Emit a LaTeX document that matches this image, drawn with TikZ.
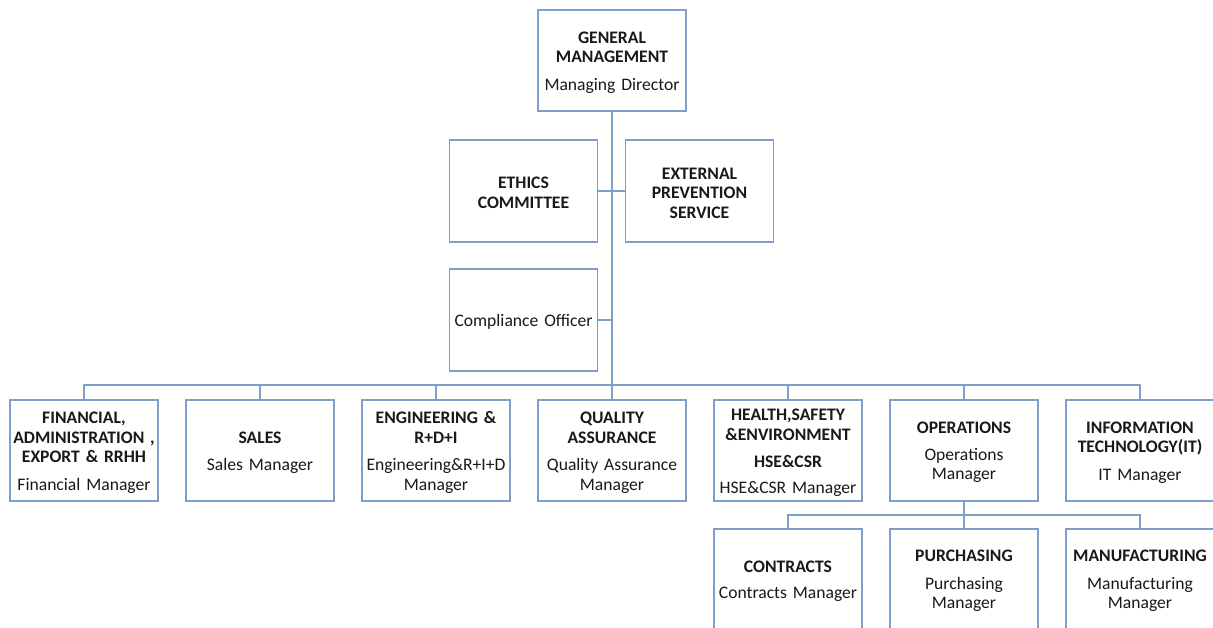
\documentclass[tikz,border=0pt]{standalone}
\usepackage{fontspec}
\setmainfont{Carlito}
\definecolor{boxline}{RGB}{126,160,200}
\definecolor{txt}{RGB}{25,25,25}
\newcommand\lowerfix{\endgraf\vspace*{-4pt}}
\begin{document}
\begin{tikzpicture}[x=1pt,y=-1pt,
  unit/.style={draw=boxline,line width=1.2pt,fill=white,inner sep=0pt,
    minimum width=148pt,minimum height=101pt,text width=146pt,align=center,
    text=txt,font=\fontsize{17.6}{19.5}\selectfont,
    execute at end node=\lowerfix},
  sub/.style={unit,minimum height=100pt},
  link/.style={draw=boxline,line width=1.4pt}]
\useasboundingbox (0,0) rectangle (1213,627);
\fill[white] (0,0) rectangle (1213,627);
% top
\node[unit] (gm) at (612,60.5) {\textbf{GENERAL\\MANAGEMENT}\\[8pt]Managing Director};
\node[unit,minimum height=102pt] (eth) at (523.5,191) {\textbf{ETHICS\\COMMITTEE}};
\node[unit,minimum height=102pt] (ext) at (699.5,191) {\textbf{EXTERNAL\\PREVENTION\\SERVICE}};
\node[unit,minimum height=102pt] (comp) at (523.5,320) {Compliance Officer};
% main row
\node[unit] (fin) at (84,450.5) {\textbf{FINANCIAL,\\ADMINISTRATION ,\\EXPORT \& RRHH}\\[8pt]Financial Manager};
\node[unit] (sales) at (260,450.5) {\textbf{SALES}\\[8pt]Sales Manager};
\node[unit] (eng) at (436,450.5) {\textbf{ENGINEERING \&\\R+D+I}\\[8pt]Engineering\&R+I+D\\Manager};
\node[unit] (qa) at (612,450.5) {\textbf{QUALITY\\ASSURANCE}\\[8pt]Quality Assurance\\Manager};
\node[unit] (hse) at (788,450.5) {\textbf{HEALTH,SAFETY\\\&ENVIRONMENT\\[8pt]HSE\&CSR}\\[6pt]HSE\&CSR Manager};
\node[unit] (ops) at (964,450.5) {\textbf{OPERATIONS}\\[7pt]Operations\\Manager};
\node[unit] (it) at (1140,450.5) {\textbf{INFORMATION\\TECHNOLOGY(IT)}\\[8pt]IT Manager};
% sub row
\node[sub] (con) at (788,579) {\textbf{CONTRACTS}\\[6pt]Contracts Manager};
\node[sub] (pur) at (964,579) {\textbf{PURCHASING}\\[8pt]Purchasing\\Manager};
\node[sub] (man) at (1140,579) {\textbf{MANUFACTURING}\\[8pt]Manufacturing\\Manager};
% connectors
\coordinate (bus) at (612,385);
\coordinate (bus2) at (964,515);
\draw[link] (gm.south) -- (qa.north);
\draw[link] (eth.east) -- (ext.west);
\draw[link] (comp.east) -- (comp.east -| gm.south);
\draw[link] (fin.north) |- (bus) -| (it.north);
\foreach \n in {sales,eng,hse,ops}{\draw[link] (\n.north) -- (\n.north |- bus);}
\draw[link] (ops.south) -- (pur.north);
\draw[link] (con.north) |- (bus2) -| (man.north);
\end{tikzpicture}
\end{document}
